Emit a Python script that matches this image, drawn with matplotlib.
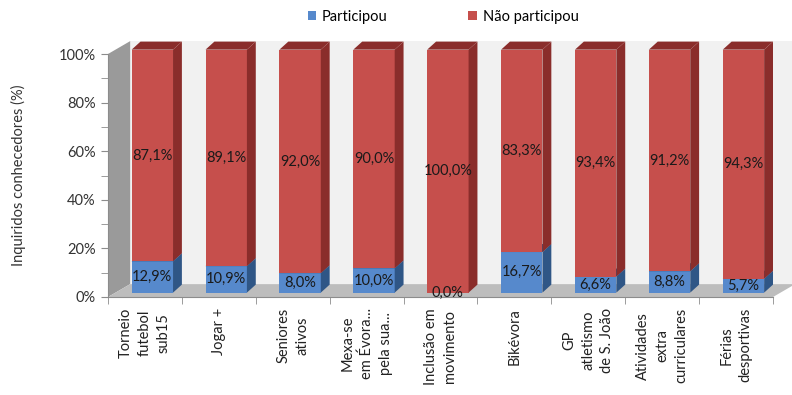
import numpy as np
import matplotlib
matplotlib.use('Agg')
import matplotlib.pyplot as plt
from matplotlib.patches import Polygon, Patch
from matplotlib.ticker import MultipleLocator, FixedLocator, PercentFormatter

plt.rcParams['font.family'] = ['Lato', 'DejaVu Sans']

categories = ['Torneio\nfutebol\nsub15', 'Jogar +', 'Seniores\nativos',
              'Mexa-se\nem Évora...\npela sua...', 'Inclusão em\nmovimento',
              'Bikévora', 'GP\natletismo\nde S. João', 'Atividades\nextra\ncurriculares',
              'Férias\ndesportivas']
participou = [12.9, 10.9, 8.0, 10.0, 0.0, 16.7, 6.6, 8.8, 5.7]
nao_participou = [87.1, 89.1, 92.0, 90.0, 100.0, 83.3, 93.4, 91.2, 94.3]
series_names = ['Participou', 'Não participou']

# colours: front, side/top
blue = ('#5689cc', '#2f5686')
red = ('#c64f4c', '#8a2d2b')

W, H = 792, 395
fig = plt.figure(figsize=(W / 100, H / 100), dpi=100)
ax = fig.add_axes([108 / W, (H - 297) / H, 665 / W, 243 / H])
n = len(categories)
ax.set_xlim(0, n)
ax.set_ylim(0, 100)

# pseudo 3D geometry (data units)
wdx, wdy = 0.30, 5.3     # wall / floor depth
box, boy = 0.10, 1.8     # bar front offset
bdx, bdy = 0.12, 3.3     # bar depth
bw = 0.56                # bar width

def add(poly, color, z):
    ax.add_patch(Polygon(poly, closed=True, facecolor=color, edgecolor='none',
                         clip_on=False, zorder=z))

# back wall, left wall, floor
add([(wdx, wdy), (n + wdx, wdy), (n + wdx, 100 + wdy), (wdx, 100 + wdy)], '#f1f1f1', 0)
add([(0, 0), (0, 100), (wdx, 100 + wdy), (wdx, wdy)], '#9a9a9a', 1)
add([(0, 0), (n, 0), (n + wdx, wdy), (wdx, wdy)], '#bdbdbd', 1)

def draw_seg(i, y0, y1, cols, z):
    x0 = i + 0.5 - bw / 2 + box
    x1 = x0 + bw
    a0, a1 = y0 + boy, y1 + boy
    add([(x0, a0), (x1, a0), (x1, a1), (x0, a1)], cols[0], z)
    add([(x1, a0), (x1 + bdx, a0 + bdy), (x1 + bdx, a1 + bdy), (x1, a1)], cols[1], z)
    add([(x0, a1), (x1, a1), (x1 + bdx, a1 + bdy), (x0 + bdx, a1 + bdy)], cols[1], z)

for i in range(n):
    p, q = participou[i], nao_participou[i]
    z = 3 + i
    if p > 0:
        draw_seg(i, 0, p, blue, z)
    draw_seg(i, p, p + q, red, z + 0.5)
    xc = i + 0.5 + box
    ax.text(xc, p / 2 + boy, f'{p:.1f}%'.replace('.', ','), ha='center', va='center',
            fontsize=10.5, color='#1a1a1a', zorder=30)
    ax.text(xc, p + q / 2 + boy, f'{q:.1f}%'.replace('.', ','), ha='center', va='center',
            fontsize=10.5, color='#1a1a1a', zorder=30)

# axes
for s in ['top', 'right']:
    ax.spines[s].set_visible(False)
for s in ['left', 'bottom']:
    ax.spines[s].set_color('#8c8c8c')
    ax.spines[s].set_zorder(2)
ax.patch.set_visible(False)

ax.yaxis.set_major_locator(MultipleLocator(20))
ax.yaxis.set_minor_locator(MultipleLocator(10))
ax.yaxis.set_major_formatter(PercentFormatter(decimals=0))
ax.tick_params(axis='y', which='both', length=5, color='#8c8c8c', labelsize=10.5,
               labelcolor='#333333', pad=4)

ax.set_xticks(np.arange(n) + 0.5)
ax.set_xticklabels(categories, rotation=90, ha='center', va='top',
                   multialignment='center', fontsize=10.5, color='#222222',
                   linespacing=1.45)
ax.xaxis.set_minor_locator(FixedLocator(np.arange(n + 1)))
ax.tick_params(axis='x', which='major', length=0, pad=8)
ax.tick_params(axis='x', which='minor', length=5, color='#8c8c8c')

fig.text(18 / W, 1 - 175 / H, 'Inquiridos conhecedores (%)', rotation=90,
         ha='center', va='center', fontsize=10.5, color='#333333')

handles = [Patch(facecolor=blue[0]), Patch(facecolor=red[0])]
fig.legend(handles, series_names, loc='center', bbox_to_anchor=(443 / W, 1 - 17 / H),
           ncol=2, frameon=False, fontsize=10.5, handlelength=0.6, handleheight=0.6,
           handletextpad=0.4, columnspacing=5.5)

fig.savefig('out.png', dpi=100)
